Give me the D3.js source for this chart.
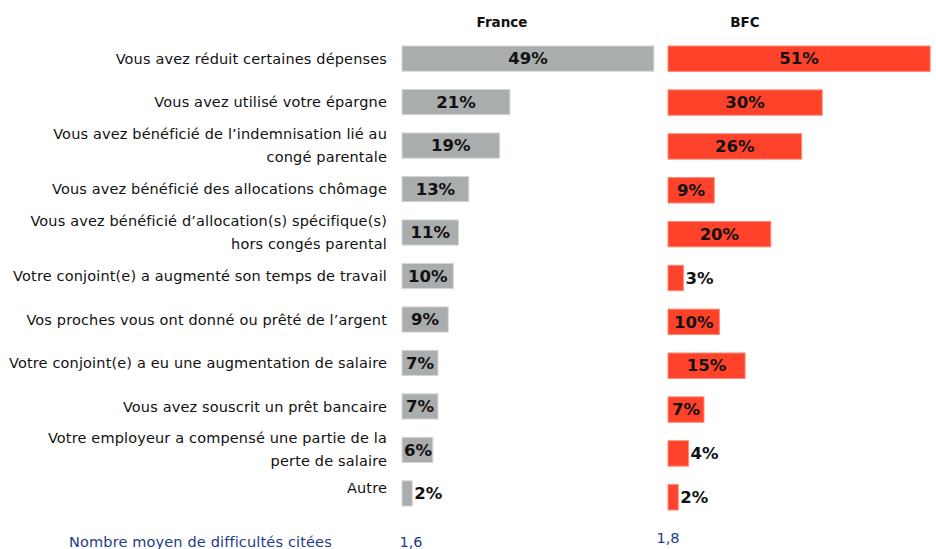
<!DOCTYPE html>
<html>
<head>
<meta charset="utf-8">
<script src="https://cdn.jsdelivr.net/npm/d3@7"></script>
<style>
  body { margin: 0; background: #fff; }
  svg { display: block; }
  text { font-family: "DejaVu Sans", sans-serif; }
</style>
</head>
<body>
<div id="chart"></div>
<script>
// Data
var categories = [
    ["Vous avez réduit certaines dépenses"],
    ["Vous avez utilisé votre épargne"],
    ["Vous avez bénéficié de l’indemnisation lié au", "congé parentale"],
    ["Vous avez bénéficié des allocations chômage"],
    ["Vous avez bénéficié d’allocation(s) spécifique(s)", "hors congés parental"],
    ["Votre conjoint(e) a augmenté son temps de travail"],
    ["Vos proches vous ont donné ou prêté de l’argent"],
    ["Votre conjoint(e) a eu une augmentation de salaire"],
    ["Vous avez souscrit un prêt bancaire "],
    ["Votre employeur a compensé une partie de la", "perte de salaire"],
    ["Autre"]
];
var franceValues = [49, 21, 19, 13, 11, 10, 9, 7, 7, 6, 2];
var bfcValues = [51, 30, 26, 9, 20, 3, 10, 15, 7, 4, 2];
var seriesNames = ["France", "BFC"];
var averageLabel = "Nombre moyen de difficultés citées";
var averages = ["1,6", "1,8"];

// Chart dimensions
var width = 936;
var height = 549;

var svg = d3.select("#chart").append("svg")
    .attr("width", width)
    .attr("height", height);

var idx = d3.range(categories.length);

// each panel is its own little chart, the two do not line up perfectly
var panels = [
    {name: seriesNames[0], values: franceValues, x0: 402, top: 46, bottom: 506, color: "#aaadad", stroke: "#d6d8d8", headerX: 502, avgX: 411, avgY: 547},
    {name: seriesNames[1], values: bfcValues, x0: 668, top: 46, bottom: 510, color: "#ff432b", stroke: "#ff8a78", headerX: 745, avgX: 668, avgY: 543}
];

var x = d3.scaleLinear().domain([0, 100]).range([0, 514]);

// Category labels on the left, centred on France rows
var yLab = d3.scaleBand().domain(idx).range([46, 506]).paddingInner(0.42).paddingOuter(0);

var labels = svg.append("g").attr("class", "labels")
    .selectAll("text")
    .data(idx)
    .enter()
    .append("text")
    .attr("text-anchor", "end")
    .attr("font-size", 14.5)
    .attr("letter-spacing", 0.15)
    .attr("fill", "#111");

labels.each(function(i) {
    var lines = categories[i];
    var cy = yLab(i) + yLab.bandwidth() / 2 - (i == 10 ? 5 : 0);
    var lineH = 23;
    var start = cy - (lines.length - 1) * lineH / 2;
    d3.select(this).selectAll("tspan")
        .data(lines)
        .enter()
        .append("tspan")
        .attr("x", 387)
        .attr("y", function(d, k) { return start + k * lineH; })
        .attr("dy", "0.35em")
        .text(function(d) { return d; });
});

panels.forEach(function(p, pi) {
    var y = d3.scaleBand().domain(idx).range([p.top, p.bottom]).paddingInner(0.42).paddingOuter(0);
    var g = svg.append("g").attr("class", "panel");

    // header
    g.append("text")
        .attr("x", p.headerX)
        .attr("y", 27)
        .attr("text-anchor", "middle")
        .attr("font-size", 13.5)
        .attr("font-weight", "bold")
        .attr("fill", "#111")
        .text(p.name);

    g.selectAll("rect")
        .data(idx)
        .enter()
        .append("rect")
        .attr("x", p.x0)
        .attr("y", function(i) { return y(i); })
        .attr("width", function(i) { return x(p.values[i]); })
        .attr("height", y.bandwidth())
        .attr("fill", p.color)
        .attr("stroke", p.stroke)
        .attr("stroke-width", 1);

    // value labels: centred inside, or just outside for small bars
    g.selectAll("text.value")
        .data(idx)
        .enter()
        .append("text")
        .attr("class", "value")
        .attr("font-size", 16.5)
        .attr("font-weight", "bold")
        .attr("fill", "#111")
        .attr("y", function(i) { return y(i) + y.bandwidth() / 2; })
        .attr("dy", "0.35em")
        .text(function(i) { return p.values[i] + "%"; })
        .each(function(i) {
            var w = this.getComputedTextLength();
            var bw = x(p.values[i]);
            var tx;
            if (bw < w * 0.8) {
                tx = p.x0 + bw + 2;
            } else {
                tx = Math.max(p.x0 + 2, p.x0 + bw / 2 - w / 2);
            }
            d3.select(this).attr("x", tx);
        });

    // average number
    svg.append("text")
        .attr("x", p.avgX)
        .attr("y", p.avgY)
        .attr("text-anchor", "middle")
        .attr("font-size", 14.5)
        .attr("fill", "#1f3a8c")
        .text(averages[pi]);
});

svg.append("text")
    .attr("x", 69)
    .attr("y", 547)
    .attr("font-size", 14.5)
    .attr("letter-spacing", 0.15)
    .attr("fill", "#1f3a8c")
    .text(averageLabel);
</script>
</body>
</html>
